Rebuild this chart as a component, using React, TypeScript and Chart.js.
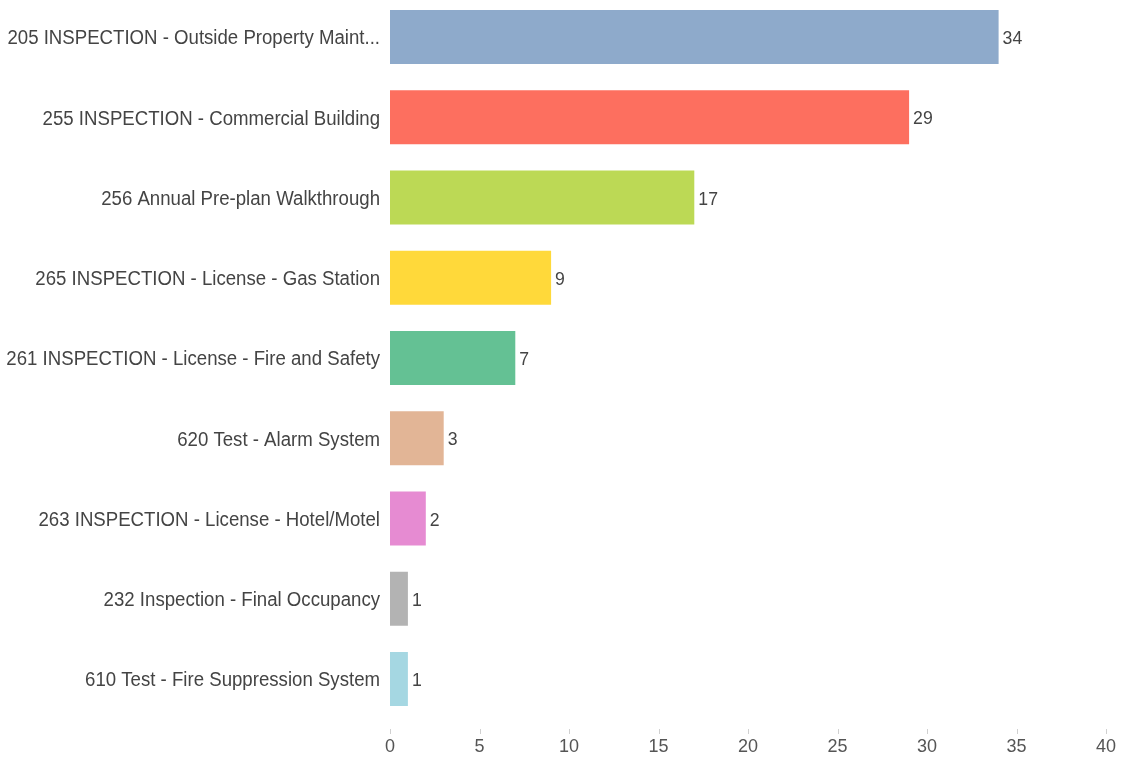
import React, { useEffect, useRef } from "react";
import { Chart, registerables } from "chart.js";

Chart.register(...registerables);

const categories = [
  "205 INSPECTION - Outside Property Maint...",
  "255 INSPECTION - Commercial Building",
  "256 Annual Pre-plan Walkthrough",
  "265 INSPECTION - License - Gas Station",
  "261 INSPECTION - License - Fire and Safety",
  "620 Test - Alarm System",
  "263 INSPECTION - License - Hotel/Motel",
  "232 Inspection - Final Occupancy",
  "610 Test - Fire Suppression System",
];
const counts = [34, 29, 17, 9, 7, 3, 2, 1, 1];
const barColors = [
  "#8eaacb",
  "#fd6f5f",
  "#bcd955",
  "#ffd93a",
  "#64c194",
  "#e2b596",
  "#e68bd2",
  "#b3b3b3",
  "#a5d7e2",
];
const xTicks = [0, 5, 10, 15, 20, 25, 30, 35, 40];

const FONT = "'Liberation Sans', Arial, sans-serif";
const SQUEEZE = 0.955;

const customText = {
  id: "customText",
  afterDatasetsDraw(chart: any) {
    const ctx = chart.ctx;
    const meta = chart.getDatasetMeta(0);
    const yScale = chart.scales.y;
    const xScale = chart.scales.x;
    ctx.save();
    // value labels
    ctx.font = `18.5px ${FONT}`;
    ctx.fillStyle = "#444444";
    ctx.textAlign = "left";
    ctx.textBaseline = "middle";
    meta.data.forEach((el: any, i: number) => {
      ctx.save();
      ctx.translate(el.x + 4, el.y + 2);
      ctx.scale(SQUEEZE, 1);
      ctx.fillText(String(counts[i]), 0, 0);
      ctx.restore();
    });
    // category labels
    ctx.font = `19.5px ${FONT}`;
    ctx.fillStyle = "#444444";
    ctx.textAlign = "right";
    categories.forEach((c, i) => {
      const y = yScale.getPixelForValue(i);
      ctx.save();
      ctx.translate(xScale.left - 10, y + 2);
      ctx.scale(SQUEEZE, 1);
      ctx.fillText(c, 0, 0);
      ctx.restore();
    });
    // x tick marks
    ctx.strokeStyle = "#d0d0d0";
    ctx.lineWidth = 1;
    const top = chart.chartArea.bottom + 10;
    xTicks.forEach((v) => {
      const x = Math.round(xScale.getPixelForValue(v)) + 0.5;
      ctx.beginPath();
      ctx.moveTo(x, top);
      ctx.lineTo(x, top + 5);
      ctx.stroke();
    });
    ctx.restore();
  },
};

export default function App() {
  const ref = useRef<HTMLCanvasElement | null>(null);
  useEffect(() => {
    document.body.style.margin = "0";
    document.body.style.background = "#ffffff";
    const chart = new Chart(ref.current!, {
      type: "bar",
      data: {
        labels: categories,
        datasets: [
          {
            data: counts,
            backgroundColor: barColors,
            barPercentage: 0.673,
            categoryPercentage: 1,
          },
        ],
      },
      plugins: [customText],
      options: {
        indexAxis: "y",
        animation: false,
        responsive: false,
        maintainAspectRatio: false,
        layout: { padding: { left: 0, right: 17, top: 0, bottom: 0 } },
        plugins: { legend: { display: false }, tooltip: { enabled: false } },
        scales: {
          x: {
            min: 0,
            max: 40,
            afterBuildTicks: (axis: any) => {
              axis.ticks = xTicks.map((v) => ({ value: v }));
            },
            afterFit: (axis: any) => {
              axis.height = 38;
              axis.paddingLeft = 0;
              axis.paddingRight = 0;
            },
            grid: { display: false, drawTicks: false },
            border: { display: false },
            ticks: {
              font: { family: FONT, size: 18 },
              color: "#555555",
              padding: 17,
            },
          },
          y: {
            afterFit: (axis: any) => {
              axis.width = 390;
              axis.paddingTop = 0;
              axis.paddingBottom = 0;
            },
            grid: { display: false, drawTicks: false, tickLength: 0 },
            border: { display: false },
            ticks: { display: false },
          },
        },
      },
    } as any);
    return () => chart.destroy();
  }, []);
  return (
    <div style={{ position: "relative", width: 1123, height: 757, overflow: "hidden" }}>
      <canvas
        ref={ref}
        width={1123}
        height={760}
        style={{ position: "absolute", left: 0, top: -3, width: 1123, height: 760 }}
      />
    </div>
  );
}
